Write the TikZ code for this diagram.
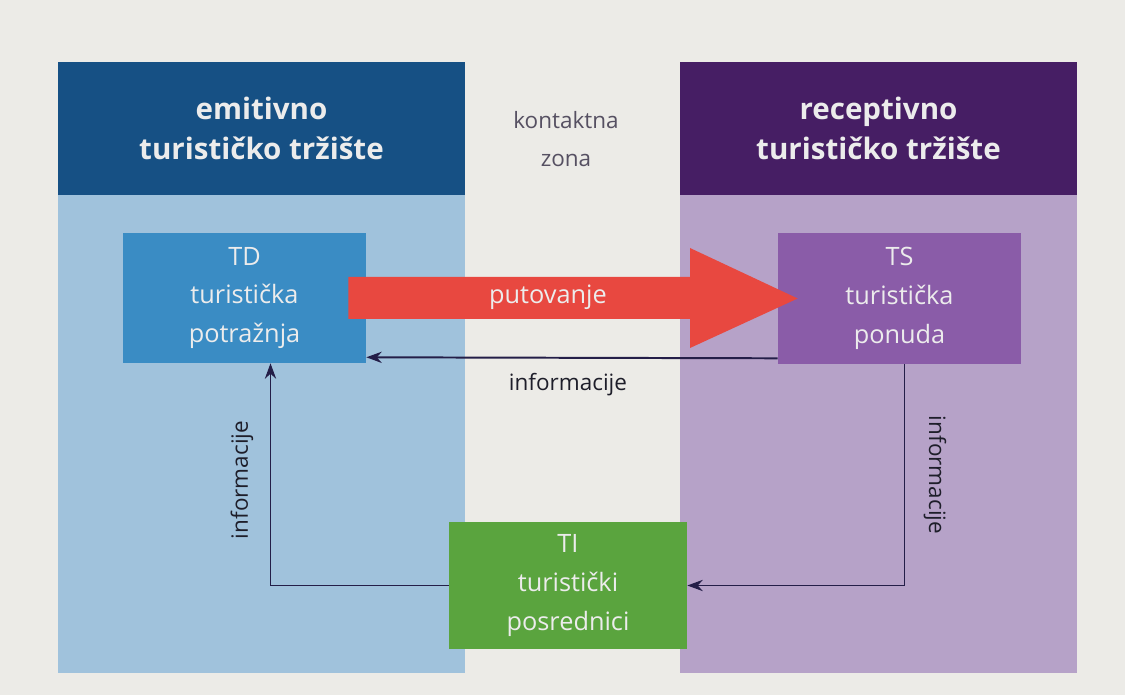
\documentclass[tikz,border=0pt]{standalone}
\usepackage{fontspec}
\setmainfont{Open Sans}
\usepackage{xcolor}
\usepackage{tikz}
\usetikzlibrary{positioning, arrows.meta, calc}

\definecolor{paper}{RGB}{236,235,231}
\definecolor{emitdark}{RGB}{22,80,132}
\definecolor{emitlight}{RGB}{160,194,220}
\definecolor{tdcol}{RGB}{58,140,196}
\definecolor{recdark}{RGB}{70,30,100}
\definecolor{reclight}{RGB}{182,162,200}
\definecolor{tscol}{RGB}{138,92,168}
\definecolor{ticol}{RGB}{90,164,62}
\definecolor{putcol}{RGB}{232,72,64}
\definecolor{linecol}{RGB}{36,30,72}
\definecolor{boxtext}{RGB}{236,236,236}
\definecolor{zonetext}{RGB}{86,80,98}
\definecolor{infotext}{RGB}{30,30,42}

\begin{document}
\begin{tikzpicture}[x=0.025cm, y=-0.025cm,
    head/.style={rectangle, inner sep=0pt, text=boxtext, align=center, font=\fontsize{21}{28.5}\selectfont\bfseries},
    box/.style={rectangle, inner sep=0pt, text=boxtext, align=center, font=\fontsize{18}{27.5}\selectfont},
    info/.style={draw=linecol, line width=1.4pt, -{Stealth[length=11pt,width=8pt]}},
    infolabel/.style={text=infotext, font=\fontsize{16}{20}\selectfont}]

    % Page
    \fill[paper] (0,0) rectangle (1125,695);
    \useasboundingbox (0,0) rectangle (1125,695);

    % Markets
    \fill[emitlight] (58,62) rectangle (465,673);
    \fill[reclight] (680,62) rectangle (1077,673);
    \node[head, fill=emitdark, minimum width=10.175cm, minimum height=3.325cm] (emit) at (261.5,128.5) {emitivno\\turističko tržište};
    \node[head, fill=recdark, minimum width=9.925cm, minimum height=3.325cm] (rec) at (878.5,128.5) {receptivno\\turističko tržište};

    % Contact zone
    \node[text=zonetext, align=center, font=\fontsize{16}{27}\selectfont] (zona) at (566,139) {kontaktna\\zona};

    % Actors
    \node[box, fill=tdcol, minimum width=6.075cm, minimum height=3.25cm] (td) at (244.5,298) {TD\\turistička\\potražnja};
    \node[box, fill=tscol, minimum width=6.075cm, minimum height=3.275cm] (ts) at (899.5,298.5) {TS\\turistička\\ponuda};
    \node[box, fill=ticol, minimum width=5.95cm, minimum height=3.175cm] (ti) at (568,585.5) {TI\\turistički\\posrednici};

    % Travel
    \fill[putcol] ($(td.east)+(-18,-21)$) -- (690,277) -- (690,248) -- ($(ts.west)+(20,0)$)
        -- (690,348) -- (690,319) -- ($(td.east)+(-18,21)$) -- cycle;
    \node[text=boxtext, font=\fontsize{18}{20}\selectfont] (put) at (548,297) {putovanje};

    % Information
    \draw[info] ($(ts.south west)+(0,-6)$) -- ($(td.south east)+(0,-6)$);
    \node[infolabel] (inf1) at (568,385) {informacije};
    \draw[info] (ti.west) -| ($(td.south)+(26,0)$);
    \node[infolabel, rotate=90] (inf2) at (242,480) {informacije};
    \draw[info] ($(ts.south)+(5,0)$) |- (ti.east);
    \node[infolabel, rotate=-90] (inf3) at (935,475) {informacije};

\end{tikzpicture}
\end{document}
